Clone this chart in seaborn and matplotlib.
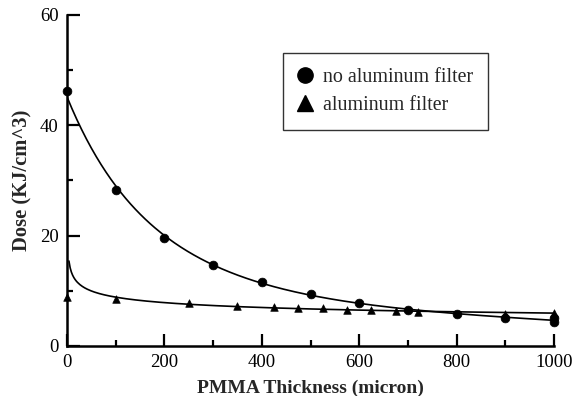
import numpy as np
import pandas as pd
import matplotlib
matplotlib.use('Agg')
import matplotlib.pyplot as plt
import seaborn as sns

# data
thick_nofilter = [0, 100, 200, 300, 400, 500, 600, 700, 800, 900, 1000, 1000]
dose_nofilter = [46.3, 28.2, 19.6, 14.7, 11.6, 9.4, 7.8, 6.6, 5.8, 5.1, 4.4, 5.0]
thick_filter = [0, 100, 250, 350, 425, 475, 525, 575, 625, 675, 720, 900, 1000]
dose_filter = [8.9, 8.5, 7.7, 7.3, 7.1, 6.9, 6.8, 6.6, 6.5, 6.3, 6.2, 5.8, 5.9]

sns.set_theme(style="ticks")
plt.rcParams['font.family'] = ['Liberation Serif', 'DejaVu Serif']

df_no = pd.DataFrame({'x': thick_nofilter, 'y': dose_nofilter})
df_al = pd.DataFrame({'x': thick_filter, 'y': dose_filter})

# smooth fits through the measured points
c_no = np.polyfit(df_no['x'], np.log(df_no['y']), 3)
xf = np.linspace(0, 1000, 300)
fit_no = pd.DataFrame({'x': xf, 'y': np.exp(np.polyval(c_no, xf))})

mask = df_al['x'] > 0
c_al = np.polyfit(np.log(df_al['x'][mask]), np.log(df_al['y'][mask]), 1)
xa = np.linspace(4, 1000, 400)
fit_al = pd.DataFrame({'x': xa, 'y': np.exp(np.polyval(c_al, np.log(xa)))})

fig = plt.figure(figsize=(5.84, 3.96), dpi=100)
ax = fig.add_axes([0.1147, 0.1263, 0.834, 0.836])

sns.lineplot(data=fit_no, x='x', y='y', ax=ax, color='black', lw=1.2)
sns.lineplot(data=fit_al, x='x', y='y', ax=ax, color='black', lw=1.2)
sns.scatterplot(data=df_no, x='x', y='y', ax=ax, marker='o', s=40,
                color='black', edgecolor='black', clip_on=False, zorder=5)
sns.scatterplot(data=df_al, x='x', y='y', ax=ax, marker='^', s=30,
                color='black', edgecolor='black', clip_on=False, zorder=5)

ax.set_xlim(0, 1000)
ax.set_ylim(0, 60)
ax.set_xticks([0, 200, 400, 600, 800, 1000])
ax.set_xticks([100, 300, 500, 700, 900], minor=True)
ax.set_yticks([0, 20, 40, 60])
ax.set_yticks([10, 30, 50], minor=True)
ax.tick_params(which='major', direction='in', length=9, width=1.6,
               labelsize=13.5, color='black', labelcolor='black', pad=6)
ax.tick_params(which='minor', direction='in', length=4, width=1.6, color='black')
for s in ['left', 'bottom']:
    ax.spines[s].set_linewidth(1.8)
    ax.spines[s].set_color('black')
sns.despine(ax=ax)

ax.set_xlabel('PMMA Thickness (micron)', fontsize=14, fontweight='bold', labelpad=6)
ax.set_ylabel('Dose (KJ/cm^3)', fontsize=14.8, fontweight='bold', labelpad=5)

h1 = plt.Line2D([], [], marker='o', ls='none', color='black', markersize=11)
h2 = plt.Line2D([], [], marker='^', ls='none', color='black', markersize=11)
leg = ax.legend([h1, h2], ['no aluminum filter', 'aluminum filter'],
                loc='upper left', bbox_to_anchor=(0.4435, 0.885),
                borderaxespad=0, fontsize=14.4, frameon=True, fancybox=False,
                borderpad=0.75, handletextpad=0.55, labelspacing=0.45,
                handlelength=0.7)
leg.get_frame().set_edgecolor('black')
leg.get_frame().set_linewidth(1.0)

fig.savefig('out.png', dpi=100)
